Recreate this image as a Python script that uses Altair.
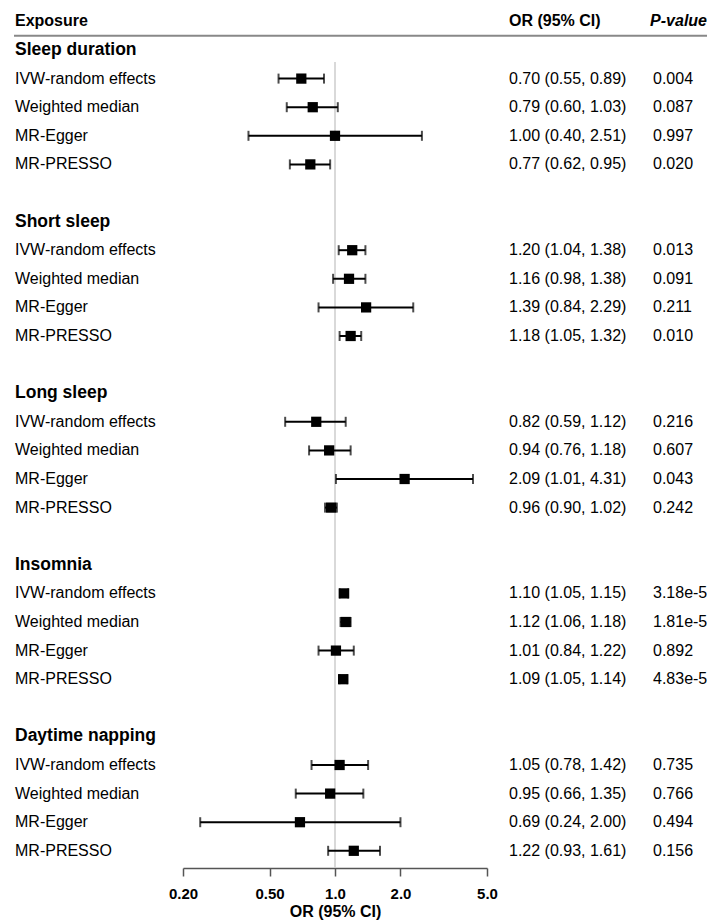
import altair as alt
import pandas as pd

groups = ["Sleep duration", "Short sleep", "Long sleep", "Insomnia", "Daytime napping"]
methods = ["IVW-random effects", "Weighted median", "MR-Egger", "MR-PRESSO"]

or_vals = [0.70, 0.79, 1.00, 0.77,
           1.20, 1.16, 1.39, 1.18,
           0.82, 0.94, 2.09, 0.96,
           1.10, 1.12, 1.01, 1.09,
           1.05, 0.95, 0.69, 1.22]
lo_vals = [0.55, 0.60, 0.40, 0.62,
           1.04, 0.98, 0.84, 1.05,
           0.59, 0.76, 1.01, 0.90,
           1.05, 1.06, 0.84, 1.05,
           0.78, 0.66, 0.24, 0.93]
hi_vals = [0.89, 1.03, 2.51, 0.95,
           1.38, 1.38, 2.29, 1.32,
           1.12, 1.18, 4.31, 1.02,
           1.15, 1.18, 1.22, 1.14,
           1.42, 1.35, 2.00, 1.61]
p_vals = ["0.004", "0.087", "0.997", "0.020",
          "0.013", "0.091", "0.211", "0.010",
          "0.216", "0.607", "0.043", "0.242",
          "3.18e-5", "1.81e-5", "0.892", "4.83e-5",
          "0.735", "0.766", "0.494", "0.156"]
tick_values = [0.2, 0.5, 1.0, 2.0, 5.0]
headers = ["Exposure", "OR (95% CI)", "P-value"]

FONT = "Liberation Sans"
W, H = 699, 860

rows = []
for gi, g in enumerate(groups):
    for mi, m in enumerate(methods):
        i = gi * 4 + mi
        rows.append({
            "row": gi * 6 + 1 + mi,
            "method": m,
            "or": or_vals[i], "lo": lo_vals[i], "hi": hi_vals[i],
            "ortext": f"{or_vals[i]:.2f} ({lo_vals[i]:.2f}, {hi_vals[i]:.2f})",
            "p": p_vals[i],
        })
df = pd.DataFrame(rows)
gdf = pd.DataFrame({"row": [gi * 6 for gi in range(len(groups))], "group": groups})

yscale = alt.Scale(domain=[0, 28], range=[42, 42 + 28.6 * 28])
xscale = alt.Scale(type="log", domain=[0.2, 5], range=[175, 479])

base = alt.Chart(df)

xaxis = alt.Axis(values=tick_values,
                 labelExpr="datum.value < 1 ? format(datum.value, '.2f') : format(datum.value, '.1f')",
                 title="OR (95% CI)", titleFont=FONT, titleFontSize=16, titleFontWeight="bold",
                 titleColor="black", titlePadding=2,
                 labelFont=FONT, labelFontSize=15, labelFontWeight="bold", labelColor="black",
                 labelPadding=10, labelFlush=False, labelOverlap=False,
                 domainColor="#555555", domainWidth=1.5,
                 tickColor="#555555", tickWidth=1.5, tickSize=8, grid=False)

yY = lambda f: alt.Y(f, scale=yscale, axis=None)

refline = alt.Chart(pd.DataFrame({"v": [1.0], "r0": [0.42]})).mark_rule(
    color="#cccccc", strokeWidth=1.5).encode(
    x=alt.X("v:Q", scale=xscale, axis=xaxis),
    y=yY("r0:Q"),
    y2=alt.value(H),
)

header_line = alt.Chart(pd.DataFrame({"v": [-0.5]})).mark_rule(color="#888888", strokeWidth=2).encode(
    y=yY("v:Q"),
    x=alt.value(6), x2=alt.value(W),
)

ci = base.mark_rule(color="black", strokeWidth=2).encode(
    x=alt.X("lo:Q", scale=xscale), x2="hi:Q", y=yY("row:Q"))
cap_lo = base.mark_tick(color="black", size=10, thickness=2).encode(
    x=alt.X("lo:Q", scale=xscale), y=yY("row:Q"))
cap_hi = base.mark_tick(color="black", size=10, thickness=2).encode(
    x=alt.X("hi:Q", scale=xscale), y=yY("row:Q"))
sq = base.mark_square(color="black", opacity=1, size=105).encode(
    x=alt.X("or:Q", scale=xscale), y=yY("row:Q"))

labels = base.mark_text(align="left", baseline="middle", font=FONT, fontSize=16, color="black").encode(
    x=alt.value(7), y=yY("row:Q"), text="method:N")
ortxt = base.mark_text(align="left", baseline="middle", font=FONT, fontSize=16, color="black").encode(
    x=alt.value(501), y=yY("row:Q"), text="ortext:N")
ptxt = base.mark_text(align="left", baseline="middle", font=FONT, fontSize=16, color="black").encode(
    x=alt.value(645), y=yY("row:Q"), text="p:N")

gtxt = alt.Chart(gdf).mark_text(align="left", baseline="middle", font=FONT, fontSize=17.5,
                                fontWeight="bold", color="black").encode(
    x=alt.value(7), y=yY("row:Q"), text="group:N")

hpos = [7, 501, W]
halign = ["left", "left", "right"]
hstyle = ["normal", "normal", "italic"]
hlayers = []
for txt, xp, al, st in zip(headers, hpos, halign, hstyle):
    hlayers.append(
        alt.Chart(pd.DataFrame({"row": [-1], "label": [txt]})).mark_text(
            align=al, baseline="middle", font=FONT, fontSize=16, fontWeight="bold",
            fontStyle=st, color="black").encode(
            x=alt.value(xp), y=yY("row:Q"), text="label:N"))

chart = alt.layer(refline, header_line, ci, cap_lo, cap_hi, sq, labels, ortxt, ptxt, gtxt, *hlayers).properties(
    width=W, height=H,
    autosize=alt.AutoSizeParams(type="none"),
    padding={"left": 0, "right": 0, "top": 0, "bottom": 56},
).configure_view(stroke=None)

chart.save("out.html", embed_options={"renderer": "svg", "actions": False})
